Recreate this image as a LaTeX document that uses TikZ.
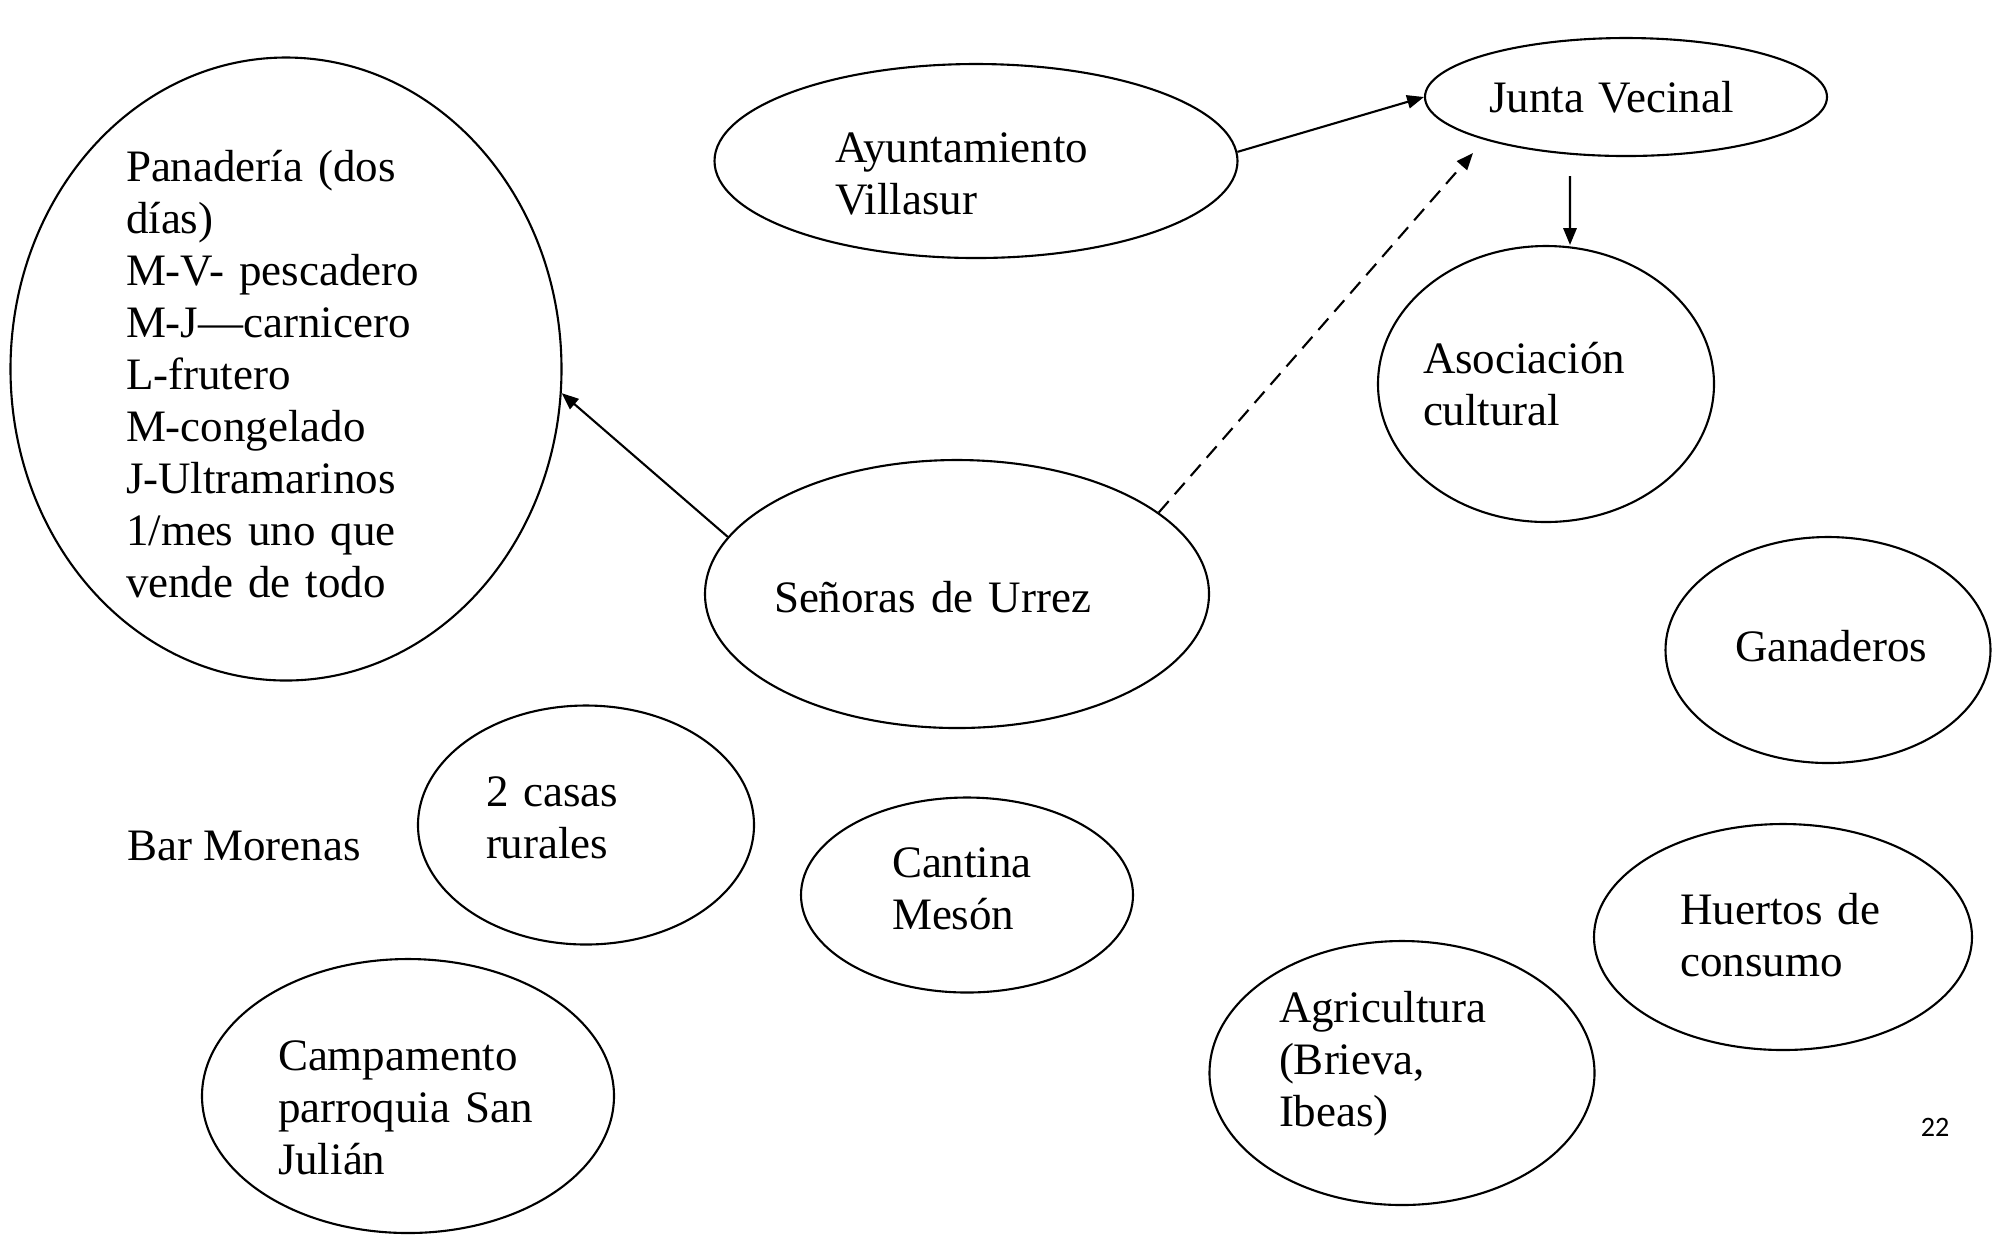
\documentclass[tikz,border=0pt]{standalone}
\usepackage{fontspec}
\setmainfont{Liberation Serif}
\newfontfamily\pagenumfont{Carlito}
\usepackage{tikz}
\usetikzlibrary{shapes.geometric,arrows.meta}

% invisible struts to nudge text inside a bubble
\newcommand{\padtop}[1]{\rule{0pt}{#1}}
\newcommand{\padbottom}[1]{\rule[-#1]{0pt}{#1}}

\begin{document}
\begin{tikzpicture}[
    >={Triangle[length=4.8pt,width=3.8pt]},
    line width=0.6pt,
    label text/.style={font=\fontsize{12.8}{14.8}\selectfont},
    bubble/.style={draw, ellipse, align=left, inner sep=-0.25cm, label text}
]
    \useasboundingbox (0,0) rectangle (20,-12.34);

    \node[bubble, minimum width=5.51cm, minimum height=6.23cm, text width=3.2cm] (pan) at (2.86,-3.69)
        {\padtop{11.7pt}Panadería (dos\\días)\\M-V- pescadero\\M-J—carnicero\\L-frutero\\M-congelado\\J-Ultramarinos\\1/mes uno que\\vende de todo};
    \node[bubble, minimum width=5.23cm, minimum height=1.94cm, text width=2.82cm] (ayto) at (9.76,-1.61) {\padtop{15.8pt}Ayuntamiento\\Villasur};
    \node[bubble, minimum width=4.02cm, minimum height=1.18cm, text width=2.74cm] (junta) at (16.26,-0.97) {Junta Vecinal};
    \node[bubble, minimum width=3.36cm, minimum height=2.76cm, text width=2.46cm] (asoc) at (15.46,-3.84) {Asociación\\cultural};
    \node[bubble, minimum width=5.04cm, minimum height=2.68cm, text width=3.66cm] (senoras) at (9.57,-5.94) {\padtop{10.9pt}Señoras de Urrez};
    \node[bubble, minimum width=3.25cm, minimum height=2.26cm, text width=1.86cm] (gan) at (18.28,-6.50) {Ganaderos\padbottom{2.2pt}};
    \node[bubble, minimum width=3.36cm, minimum height=2.39cm, text width=2.0cm] (casas) at (5.86,-8.25) {2 casas\\rurales\padbottom{4.4pt}};
    \node[label text, anchor=west, inner sep=0pt] (bar) at (1.26,-8.46) {Bar Morenas};
    \node[bubble, minimum width=3.32cm, minimum height=1.95cm, text width=1.5cm] (cantina) at (9.67,-8.95) {Cantina\\Mesón\padbottom{3.6pt}};
    \node[bubble, minimum width=3.78cm, minimum height=2.26cm, text width=2.05cm] (huertos) at (17.83,-9.37) {Huertos de\\consumo\padbottom{1.4pt}};
    \node[bubble, minimum width=3.85cm, minimum height=2.64cm, text width=2.46cm] (agri) at (14.02,-10.73) {Agricultura\\(Brieva,\\Ibeas)\padbottom{8pt}};
    \node[bubble, minimum width=4.12cm, minimum height=2.74cm, text width=2.6cm] (camp) at (4.08,-10.96) {\padtop{15.2pt}Campamento\\parroquia San\\Julián};
    \node[font=\pagenumfont\fontsize{8}{10}\selectfont] (pagenum) at (19.35,-11.27) {22};

    \draw[->] (ayto.2) -- (junta.west);
    \draw[->] ([shift={(-0.56,-0.19)}]junta.south) -- ([xshift=0.24cm]asoc.north);
    \draw[->, dash pattern=on 4.3pt off 2.6pt] (senoras.22) -- ([shift={(-1.53,-0.56)}]junta.center);
    \draw[->] (senoras.166) -- (pan.-5);
\end{tikzpicture}
\end{document}
